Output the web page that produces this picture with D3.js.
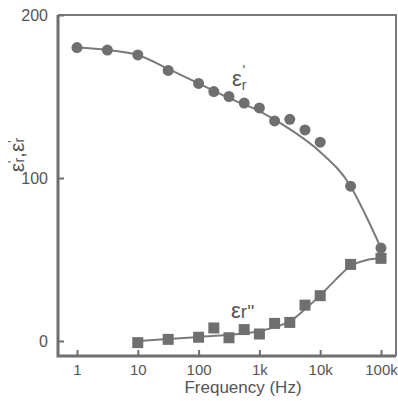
<!DOCTYPE html>
<html>
<head>
<meta charset="utf-8">
<script src="https://cdn.jsdelivr.net/npm/d3@7"></script>
<style>
  body { margin: 0; background: #fff; }
  text, tspan { font-family: "Liberation Sans", Arial, sans-serif; fill: #555; }
</style>
</head>
<body>
<svg id="vis" width="398" height="401"></svg>
<script>
// measured points
const realFreq = [1, 3.16, 10, 31.6, 100, 178, 316, 562, 1000, 1780, 3160, 5620, 10000, 31600, 100000];
const realVals = [180, 178.5, 175.5, 166, 158, 153, 150, 146, 143, 135, 136, 129.5, 122, 95, 57];
const imagFreq = [10, 31.6, 100, 178, 316, 562, 1000, 1780, 3160, 5620, 10000, 31600, 100000];
const imagVals = [-1, 1, 2.3, 8, 2, 7, 4.3, 10.8, 11.4, 22, 27.8, 47, 50.7];
// fitted curves
const realFitFreq = [1, 3.16, 10, 31.6, 100, 316, 1000, 3160, 10000, 31600, 56200, 100000];
const realFitVals = [180, 178.5, 175.5, 167, 158, 149, 141, 130, 116, 95, 77, 57];
const imagFitFreq = [10, 31.6, 100, 316, 1000, 1780, 3160, 5620, 10000, 17800, 31600, 56200, 100000];
const imagFitVals = [0, 1.2, 2.5, 3.8, 6, 8.5, 12, 19.5, 28, 37.5, 46, 49.5, 50.7];
const xTicks = [1, 10, 100, 1000, 10000, 100000];
const xTickLabels = ["1", "10", "100", "1k", "10k", "100k"];
const yTicks = [0, 100, 200];

function draw() {
    let svg = d3.select("#vis");
    let frame = { left: 58, right: 396, top: 15, bottom: 356 };
    let grey = "#6f6f6f";

    let x = d3.scaleLog().domain([1, 100000]).range([77, 381]);
    let y = d3.scaleLinear().domain([0, 200]).range([341, 15]);

    // frame
    svg.append("path")
        .attr("d", `M${frame.left},${frame.top}H${frame.right}V${frame.bottom}`)
        .attr("fill", "none").attr("stroke", "#7a7a7a").attr("stroke-width", 2);
    svg.append("path")
        .attr("d", `M${frame.left},${frame.top}V${frame.bottom}H${frame.right}`)
        .attr("fill", "none").attr("stroke", grey).attr("stroke-width", 3);

    // y axis
    let yAxis = svg.append("g")
        .attr("transform", `translate(${frame.left}, 0)`)
        .call(d3.axisLeft(y).tickValues(yTicks).tickSize(-6).tickPadding(10));
    yAxis.select(".domain").remove();
    yAxis.selectAll("line").attr("stroke", grey).attr("stroke-width", 2);
    yAxis.selectAll("text").attr("font-size", 16).attr("dy", "0.36em");

    // x axis
    let xAxis = svg.append("g")
        .attr("transform", `translate(0, ${frame.bottom})`)
        .call(d3.axisBottom(x).tickValues(xTicks).tickFormat((d, i) => xTickLabels[i]).tickSize(-6).tickPadding(8));
    xAxis.select(".domain").remove();
    xAxis.selectAll("line").attr("stroke", grey).attr("stroke-width", 2);
    xAxis.selectAll("text").attr("font-size", 15);

    svg.append("text")
        .attr("x", 243).attr("y", 393)
        .attr("text-anchor", "middle")
        .attr("font-size", 17)
        .text("Frequency (Hz)");

    let ylab = svg.append("text")
        .attr("transform", "translate(24, 155) rotate(-90)")
        .attr("text-anchor", "middle")
        .attr("font-size", 21);
    ylab.append("tspan").text("ε");
    ylab.append("tspan").attr("font-size", 12).attr("dy", -7).text("'");
    ylab.append("tspan").attr("font-size", 14).attr("dx", -2).attr("dy", 7).text("r");
    ylab.append("tspan").text(",ε");
    ylab.append("tspan").attr("font-size", 12).attr("dy", -7).text("'");
    ylab.append("tspan").attr("font-size", 14).attr("dx", -2).attr("dy", 7).text("r");

    let line = d3.line()
        .x((d) => x(d[0]))
        .y((d) => y(d[1]))
        .curve(d3.curveMonotoneX);

    svg.append("path")
        .datum(realFitFreq.map((f, i) => [f, realFitVals[i]]))
        .attr("d", line)
        .attr("fill", "none").attr("stroke", "#7a7a7a").attr("stroke-width", 2);
    svg.append("path")
        .datum(imagFitFreq.map((f, i) => [f, imagFitVals[i]]))
        .attr("d", line)
        .attr("fill", "none").attr("stroke", "#7a7a7a").attr("stroke-width", 2);

    svg.selectAll(".dot")
        .data(realFreq.map((f, i) => [f, realVals[i]]))
        .enter().append("circle")
            .attr("class", "dot")
            .attr("cx", (d) => x(d[0]))
            .attr("cy", (d) => y(d[1]))
            .attr("r", 5.5)
            .attr("fill", grey);

    let s = 11;
    svg.selectAll(".sq")
        .data(imagFreq.map((f, i) => [f, imagVals[i]]))
        .enter().append("rect")
            .attr("class", "sq")
            .attr("x", (d) => x(d[0]) - s / 2)
            .attr("y", (d) => y(d[1]) - s / 2)
            .attr("width", s)
            .attr("height", s)
            .attr("fill", grey);

    // curve labels
    let l1 = svg.append("text").attr("x", 232).attr("y", 86).attr("font-size", 22);
    l1.append("tspan").text("ε");
    l1.append("tspan").attr("font-size", 14).attr("dy", 4).text("r");
    l1.append("tspan").attr("font-size", 14).attr("dx", -4).attr("dy", -15).text("'");

    let l2 = svg.append("text").attr("x", 231).attr("y", 318).attr("font-size", 22);
    l2.append("tspan").text("ε");
    l2.append("tspan").attr("font-size", 19).text("r''");
}

document.addEventListener('DOMContentLoaded', () => {
    draw();
})
</script>
</body>
</html>
